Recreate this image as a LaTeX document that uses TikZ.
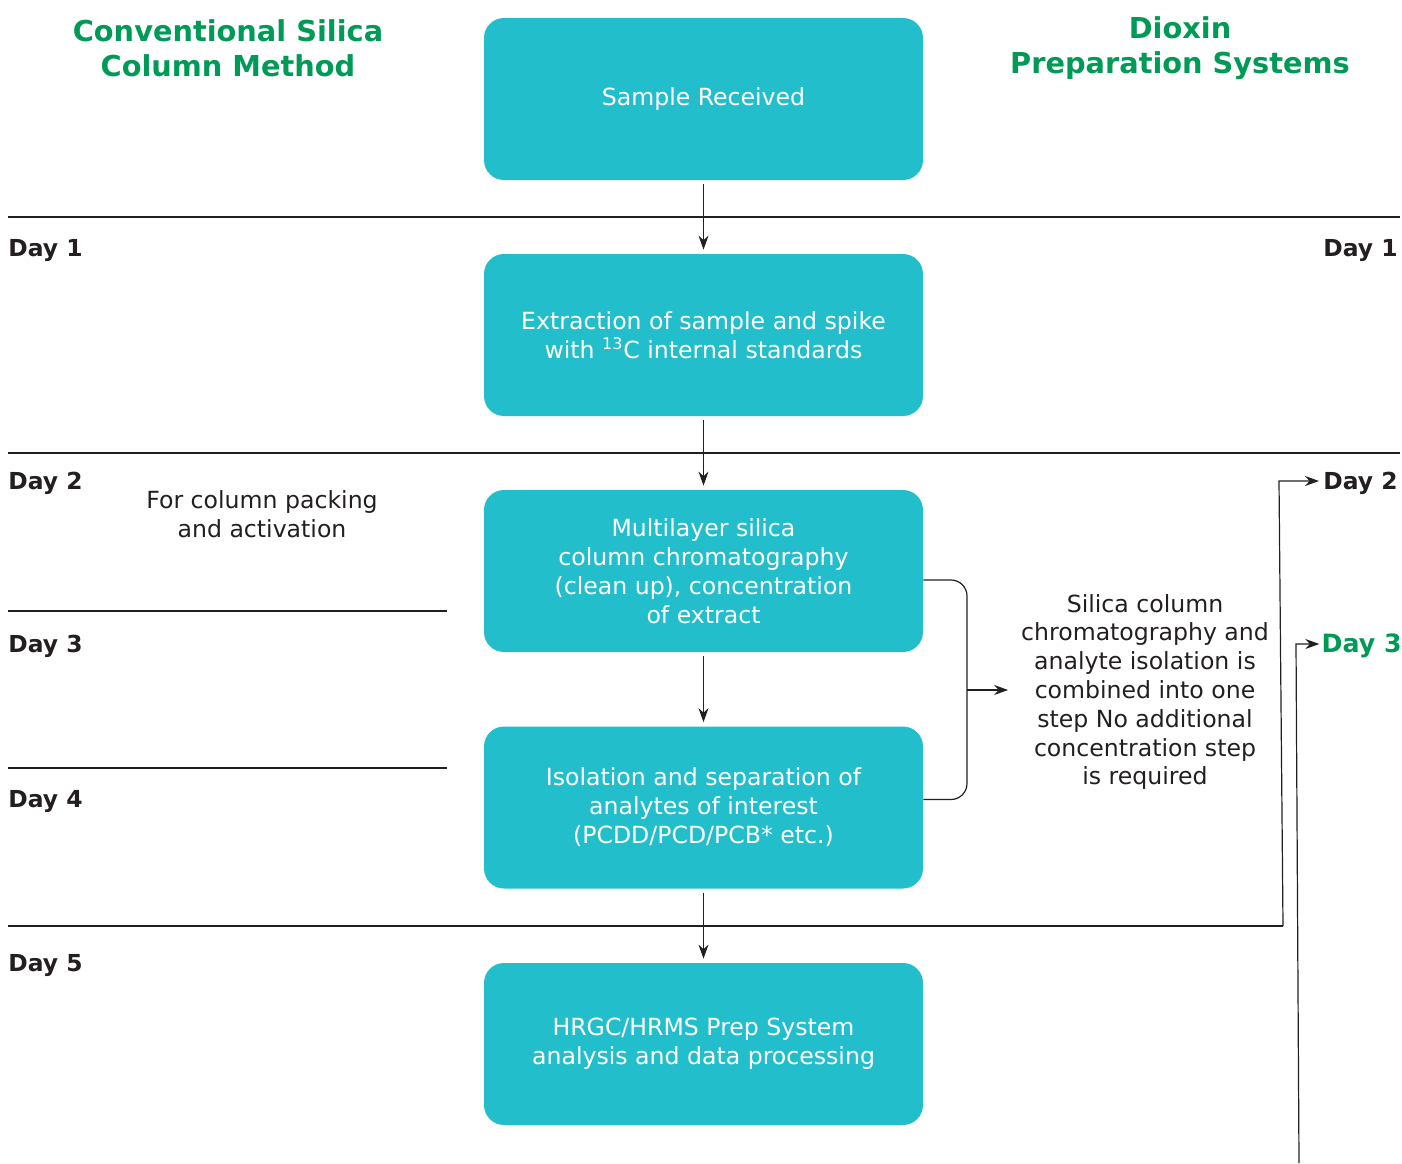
\documentclass[tikz,border=0pt]{standalone}
\usepackage{fontspec}
\setmainfont{DejaVu Sans}
\usetikzlibrary{arrows.meta,calc}
\definecolor{boxcyan}{HTML}{22BECC}
\definecolor{titlegreen}{HTML}{009A57}
\definecolor{ink}{HTML}{231F20}

\begin{document}
\begin{tikzpicture}[x=0.5pt,y=-0.5pt,>={Stealth[length=7pt,width=5pt]},
  box/.style={fill=boxcyan,text=white,rounded corners=10pt,minimum width=219.5pt,minimum height=81pt,align=center,font=\fontsize{11.8}{14.5}\selectfont},
  daylbl/.style={font=\fontsize{11.7}{14}\selectfont\bfseries,text=ink,inner sep=0pt},
  ttl/.style={font=\fontsize{14.4}{17.5}\selectfont\bfseries,text=titlegreen,align=center},
  note/.style={font=\fontsize{11.8}{14.4}\selectfont,text=ink,align=center},
  sepline/.style={draw=ink,line width=0.6pt}]
\useasboundingbox (0,0) rectangle (1402,1163);
% headings
\node[ttl] (tl) at (228,48) {Conventional Silica\\ Column Method};
\node[ttl] (tr) at (1180,48) {Dioxin\\ Preparation Systems};
% day rows
\foreach \y/\xe in {217/1400,453/1400,611/447,768/447} \draw[sepline] (8,\y) -- (\xe,\y);
\foreach \y/\d in {250/1,483/2,646/3,801/4,965/5} \node[daylbl,anchor=west] (dl\d) at (8,\y) {Day \d};
\node[daylbl,anchor=east] (dr1) at (1398,250) {Day 1};
\node[daylbl,anchor=east] (dr2) at (1398,483) {Day 2};
\node[daylbl,anchor=east,text=titlegreen,font=\fontsize{12.6}{14}\selectfont\bfseries] (dr3) at (1402,646) {Day 3};
\node[note] (pack) at (262,514) {For column packing\\ and activation};
% steps
\node[box] (b1) at (703.5,99) {Sample Received};
\node[box] (b2) at (703.5,335) {Extraction of sample and spike\\ with \textsuperscript{\fontsize{8}{9}\selectfont 13}C internal standards};
\node[box] (b3) at (703.5,571) {Multilayer silica\\ column chromatography\\ (clean up), concentration\\ of extract};
\node[box] (b4) at (703.5,807.5) {Isolation and separation of\\ analytes of interest\\ (PCDD/PCD/PCB* etc.)};
\node[box] (b5) at (703.5,1044) {HRGC/HRMS Prep System\\ analysis and data processing};
\foreach \a/\b in {b1/b2,b2/b3,b3/b4,b4/b5} \draw[sepline,->,shorten <=2pt,shorten >=2pt] (\a) -- (\b);
% combined step
\node[note] (comb) at (1145,692) {Silica column\\ chromatography and\\ analyte isolation is\\ combined into one\\ step No additional\\ concentration step\\ is required};
\coordinate (brk) at (967,690);
\draw[sepline,rounded corners=8pt] ($(b3.east)+(0,9)$) -| (brk) |- ($(b4.east)+(0,-8)$);
\draw[sepline,->,shorten >=3pt] (brk) -- (brk -| comb.west);
% shortcuts
\coordinate (t2) at (1283,926);
\draw[sepline] (8,926) -- (t2);
\draw[sepline,->,shorten >=2pt] (t2) -- (1279,481) -- (dr2.west |- 0,481);
\coordinate (t3) at (1299,1163);
\draw[sepline,->,shorten >=1pt] (t3) -- (1296,644) -- (dr3.west |- 0,644);
\end{tikzpicture}
\end{document}
